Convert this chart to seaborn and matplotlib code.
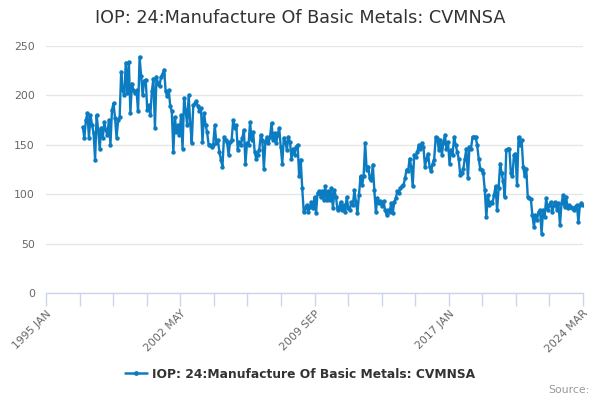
import matplotlib
matplotlib.use("Agg")
import matplotlib.pyplot as plt
import seaborn as sns
import pandas as pd
import numpy as np
from matplotlib.lines import Line2D

title = "IOP: 24:Manufacture Of Basic Metals: CVMNSA"
series_name = "IOP: 24:Manufacture Of Basic Metals: CVMNSA"
start = "1997-01"

v1997 = [168, 157, 175, 182, 157, 180, 170, 162, 135, 180, 165, 146]
v1998 = [167, 157, 173, 165, 160, 175, 150, 185, 192, 177, 157, 175]
v1999 = [178, 224, 205, 200, 233, 202, 234, 182, 212, 205, 202, 205]
v2000 = [184, 239, 220, 200, 215, 216, 185, 190, 180, 204, 217, 167]
v2001 = [219, 212, 210, 219, 222, 226, 204, 199, 205, 189, 184, 143]
v2002 = [178, 163, 170, 160, 180, 146, 197, 185, 170, 200, 172, 152]
v2003 = [190, 192, 194, 189, 184, 187, 153, 182, 170, 163, 150, 150]
v2004 = [148, 150, 170, 152, 155, 143, 135, 128, 158, 155, 153, 140]
v2005 = [153, 155, 175, 167, 170, 145, 153, 150, 157, 165, 131, 152]
v2006 = [150, 173, 155, 163, 143, 136, 140, 145, 160, 155, 126, 153]
v2007 = [158, 152, 158, 172, 155, 162, 152, 160, 167, 148, 131, 157]
v2008 = [153, 145, 158, 153, 136, 146, 140, 148, 150, 118, 135, 106]
v2009 = [82, 86, 89, 82, 87, 92, 86, 97, 81, 101, 103, 97]
v2010 = [103, 94, 108, 94, 103, 94, 106, 86, 104, 97, 84, 86]
v2011 = [92, 84, 89, 82, 97, 86, 84, 92, 89, 104, 92, 81]
v2012 = [99, 118, 109, 118, 152, 125, 128, 116, 114, 130, 104, 82]
v2013 = [96, 91, 93, 88, 93, 84, 79, 84, 82, 91, 81, 92]
v2014 = [96, 103, 101, 106, 108, 109, 116, 125, 123, 136, 128, 108]
v2015 = [140, 138, 143, 150, 146, 152, 148, 128, 136, 141, 128, 123]
v2016 = [131, 135, 158, 157, 145, 155, 140, 152, 160, 146, 153, 131]
v2017 = [145, 140, 158, 150, 143, 136, 119, 121, 126, 136, 146, 116]
v2018 = [148, 146, 158, 158, 158, 150, 136, 126, 125, 121, 104, 77]
v2019 = [99, 89, 92, 91, 99, 108, 84, 106, 131, 121, 113, 97]
v2020 = [145, 146, 146, 121, 118, 140, 141, 109, 158, 150, 155, 128]
v2021 = [118, 126, 97, 96, 95, 79, 67, 79, 74, 82, 84, 60]
v2022 = [84, 77, 96, 84, 89, 92, 82, 89, 92, 84, 91, 69]
v2023 = [91, 99, 87, 97, 86, 89, 87, 86, 84, 87, 89, 72]
v2024 = [89, 91, 89]

tick_labels = ["1995 JAN", "2002 MAY", "2009 SEP", "2017 JAN", "2024 MAR"]
y_ticks = [0, 50, 100, 150, 200, 250]

values = (v1997 + v1998 + v1999 + v2000 + v2001 + v2002 + v2003 + v2004 + v2005
          + v2006 + v2007 + v2008 + v2009 + v2010 + v2011 + v2012 + v2013 + v2014
          + v2015 + v2016 + v2017 + v2018 + v2019 + v2020 + v2021 + v2022 + v2023
          + v2024)
dates = pd.date_range(start, periods=len(values), freq="MS")
month_idx = (dates.year - 1995) * 12 + (dates.month - 1)
df = pd.DataFrame({"month": month_idx, "value": values, "series": series_name})

sns.set_theme(style="white")
plt.rcParams["font.family"] = ["DejaVu Sans"]

fig = plt.figure(figsize=(6, 4), dpi=100)
ax = fig.add_axes([46 / 600, 107 / 400, 537 / 600, 247 / 400])

color = "#0b7cc1"
sns.lineplot(data=df, x="month", y="value", hue="series", palette=[color],
             marker="o", markersize=3.2, markeredgewidth=0, linewidth=1.7,
             ax=ax, legend=False)

x_end = 350
ax.set_xlim(0, x_end)
ax.set_ylim(0, 250)
ax.set_yticks(y_ticks)
ax.set_yticklabels([str(t) for t in y_ticks], color="#666666", fontsize=7.8)
ax.yaxis.grid(True, color="#e6e6e6", linewidth=1)
ax.xaxis.grid(False)
ax.tick_params(axis="y", length=0, pad=8)

ticks = np.linspace(0, x_end, 17)
ax.set_xticks(ticks)
labels = []
for i in range(17):
    labels.append(tick_labels[i // 4] if i % 4 == 0 else "")
ax.set_xticklabels(labels, rotation=45, ha="right", rotation_mode="anchor",
                   color="#666666", fontsize=7.8)
ax.tick_params(axis="x", length=9, width=1, color="#ccd6eb", pad=2,
               direction="out", bottom=True)

for s in ["top", "right", "left"]:
    ax.spines[s].set_visible(False)
ax.spines["bottom"].set_color("#ccd6eb")
ax.spines["bottom"].set_linewidth(1)
ax.set_xlabel("")
ax.set_ylabel("")

fig.text(0.5, 0.955, title, ha="center", va="center", fontsize=12.7, color="#333333")

handle = Line2D([0], [0], color=color, linewidth=1.8, marker="o", markersize=3.5,
                markeredgewidth=0)
leg = fig.legend([handle], [series_name], loc="center", bbox_to_anchor=(0.5, 0.065),
                 frameon=False, handlelength=1.8, handletextpad=0.4,
                 prop={"weight": "bold", "size": 8.8})
for t in leg.get_texts():
    t.set_color("#333333")

fig.text(0.983, 0.025, "Source:", ha="right", va="center", fontsize=7.8, color="#999999")

fig.savefig("out.png", dpi=100)
